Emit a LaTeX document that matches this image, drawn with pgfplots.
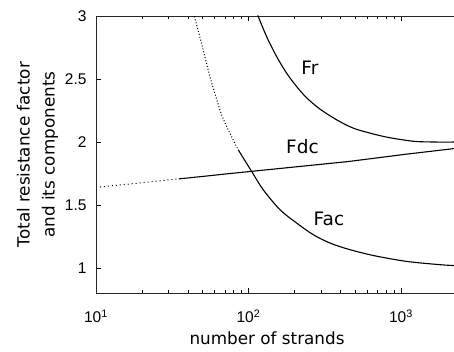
\documentclass[border=0pt]{standalone}
\usepackage{fontspec}
\setmainfont{Liberation Sans}
\newfontfamily\djsans{DejaVu Sans}
\newcommand\tfont{\fontsize{15.5}{18}\selectfont}
\newcommand\lfont{\djsans\fontsize{16.8}{25}\selectfont}
\newcommand\cfont{\djsans\fontsize{18.5}{20}\selectfont}
\usepackage{pgfplots}
\pgfplotsset{compat=1.18}
\begin{document}
\begin{tikzpicture}
\begin{axis}[
  scale only axis,
  width=358pt, height=277.3pt,
  at={(96pt,58.7pt)}, anchor=south west,
  xmode=log,
  xmin=10, xmax=2228,
  ymin=0.8, ymax=3,
  axis x line*=box, axis y line*=left,
  axis line style={line width=0.9pt, black!85},
  tick align=inside,
  major tick length=5pt, minor tick length=3pt,
  tick style={line width=0.6pt, black},
  xtick={10,100,1000},
  xticklabels={{\tfont 10\textsuperscript{1}},{\tfont 10\textsuperscript{2}},{\tfont 10\textsuperscript{3}}},
  ytick={1,1.5,2,2.5,3},
  yticklabels={{\tfont 1},{\tfont 1.5},{\tfont 2},{\tfont 2.5},{\tfont 3}},
  yticklabel style={xshift=-6pt},
  xticklabel style={yshift=-13pt},
  xlabel={\lfont number of strands},
  xlabel style={at={(axis description cs:0.4777,-0.1864)}, anchor=base, font=\lfont},
  ylabel={\lfont Total resistance factor\\\lfont and its components},
  ylabel style={at={(axis description cs:-0.1634,0.5)}, anchor=center, align=center, font=\lfont},
]
% Fdc
\addplot[black, line width=1pt, dash pattern=on 1pt off 3pt] coordinates {
 (10.6,1.643) (15,1.662) (20,1.677) (30,1.700) (35,1.708)
};
\addplot[black, line width=1.1pt] coordinates {
 (35,1.708) (50,1.727) (70,1.746) (102,1.766) (200,1.802) (449,1.845) (1089,1.904) (2228,1.948)
};
% Fac
\addplot[black, line width=1pt, dash pattern=on 1pt off 2pt, smooth] coordinates {
 (44.0,3.02) (44.6,2.98) (50,2.75) (55.9,2.519) (65,2.255) (71.9,2.123) (85.7,1.938)
};
\addplot[black, line width=1.1pt, smooth] coordinates {
 (85.7,1.938) (105.5,1.762) (125,1.621) (161,1.463) (207,1.357) (266,1.265) (342,1.199) (451,1.150) (658,1.100) (1089,1.053) (1803,1.027) (2228,1.020)
};
% Fr
\addplot[black, line width=1.1pt, smooth] coordinates {
 (115,3.005) (131.6,2.836) (153,2.678) (178,2.546) (207,2.440) (241,2.350) (294,2.262) (379,2.176) (487,2.110) (626,2.071) (806,2.039) (1035,2.017) (1265,2.004) (1700,2.000) (2228,2.000)
};
\node[font=\cfont] at (axis cs:253,2.587) {Fr};
\node[font=\cfont] at (axis cs:226,1.963) {Fdc};
\node[font=\cfont] at (axis cs:337,1.389) {Fac};
\end{axis}
\pgfresetboundingbox
\useasboundingbox (0,0) rectangle (454pt,352pt);
\end{tikzpicture}
\end{document}
